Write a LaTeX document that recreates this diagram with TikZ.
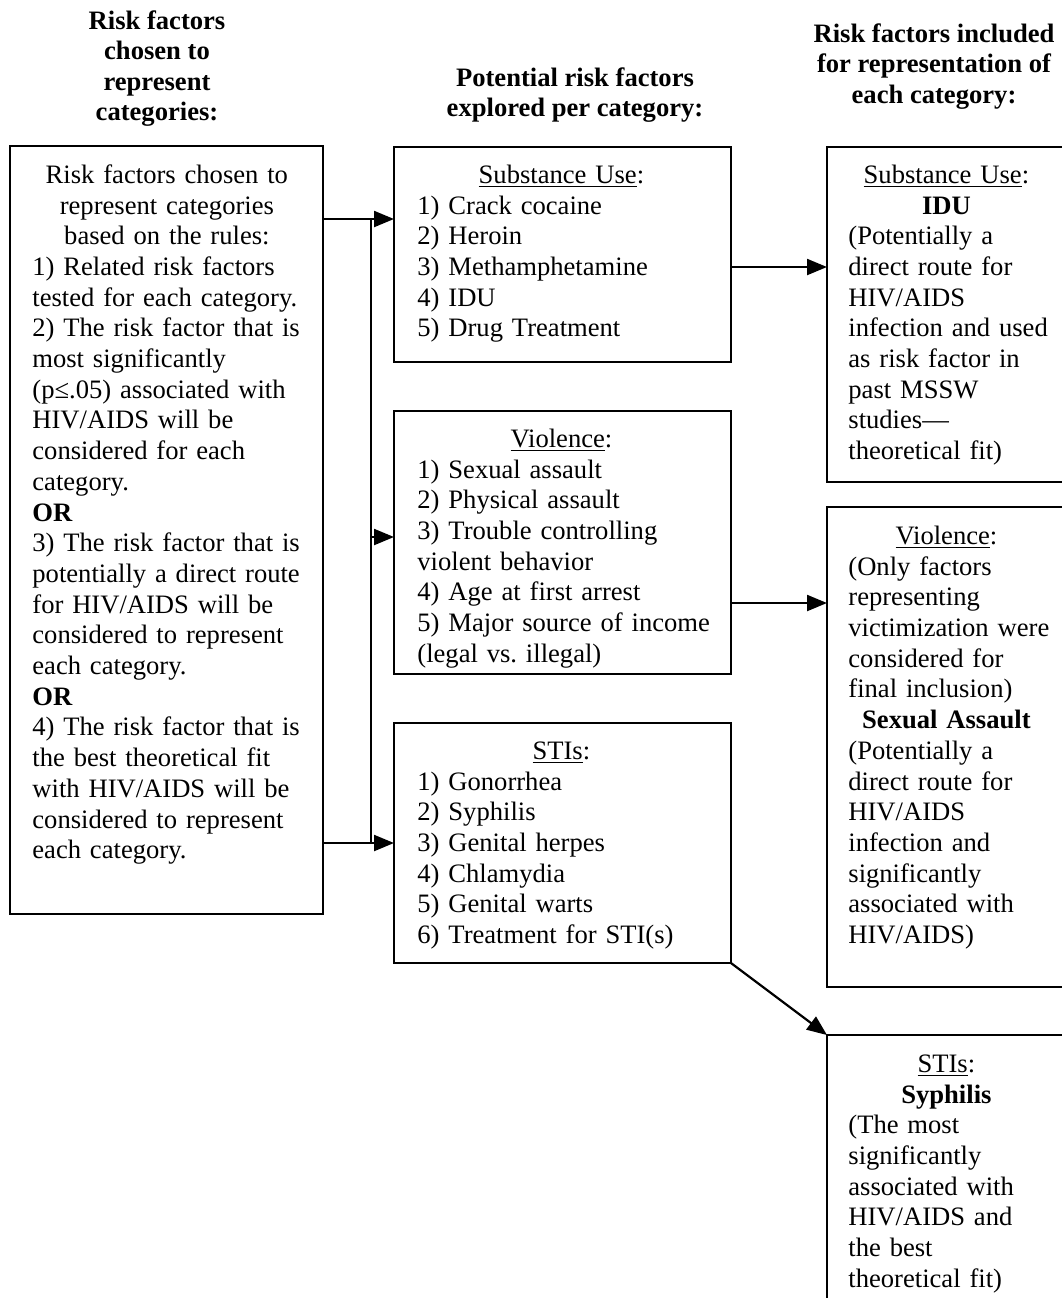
\documentclass[tikz,border=0pt]{standalone}
\usepackage{fontspec}
\setmainfont{Liberation Serif}
\usetikzlibrary{arrows.meta}
\setlength{\parindent}{0pt}
\frenchspacing
\begin{document}
\begin{tikzpicture}[x=0.5pt,y=-0.5pt,
  box/.style={draw, line width=1.1pt, inner sep=0pt, outer sep=0pt, anchor=north west},
  txt/.style={anchor=north west, inner sep=0pt, align=left,
    font=\fontsize{13.3pt}{15.35pt}\selectfont},
  head/.style={anchor=north, inner sep=0pt, align=center,
    font=\fontsize{13.3pt}{15.25pt}\selectfont\bfseries},
  link/.style={line width=1.1pt, line cap=rect},
  arr/.style={line width=1.1pt, -{Triangle[length=10pt,width=8pt]}}]
\useasboundingbox (0,0) rectangle (1062,1298);
\clip (0,0) rectangle (1062,1298);

% column headings
\node[head] (hL) at (157,7.5) {\strut Risk factors\\ chosen to\\ represent\\ categories:};
\node[head] (hM) at (575,64.5) {\strut Potential risk factors\\ explored per category:};
\node[head] (hR) at (934,20.5) {\strut Risk factors included\\ for representation of\\ each category:};

% frames
\node[box, minimum width=156.5pt, minimum height=384pt] (L) at (10,146) {};
\node[box, minimum width=168.5pt, minimum height=107.5pt] (M1) at (394,147) {};
\node[box, minimum width=168.5pt, minimum height=131.5pt] (M2) at (394,411) {};
\node[box, minimum width=168.5pt, minimum height=120pt] (M3) at (394,723) {};
\node[box, minimum width=120pt, minimum height=167.5pt] (R1) at (827,147) {};
\node[box, minimum width=120pt, minimum height=240pt] (R2) at (827,507) {};
\node[box, minimum width=120pt, minimum height=150pt] (R3) at (827,1035) {};

% rules for choosing
\node[txt, text width=150pt] (tL) at (32,161.5) {%
\makebox[134.5pt]{\strut Risk factors chosen to}\\
\makebox[134.5pt]{represent categories}\\
\makebox[134.5pt]{based on the rules:}\\
1) Related risk factors\\
tested for each category.\\
2) The risk factor that is\\
most significantly\\
(p≤.05) associated with\\
HIV/AIDS will be\\
considered for each\\
category.\\
\textbf{OR}\\
3) The risk factor that is\\
potentially a direct route\\
for HIV/AIDS will be\\
considered to represent\\
each category.\\
\textbf{OR}\\
4) The risk factor that is\\
the best theoretical fit\\
with HIV/AIDS will be\\
considered to represent\\
each category.};

% candidate risk factors
\node[txt, text width=170pt] (tM1) at (417,161.5) {%
\makebox[144pt]{\strut\underline{Substance Use}:}\\
1) Crack cocaine\\
2) Heroin\\
3) Methamphetamine\\
4) IDU\\
5) Drug Treatment};

\node[txt, text width=170pt] (tM2) at (417,425.5) {%
\makebox[144pt]{\strut\underline{Violence}:}\\
1) Sexual assault\\
2) Physical assault\\
3) Trouble controlling\\
violent behavior\\
4) Age at first arrest\\
5) Major source of income\\
(legal vs. illegal)};

\node[txt, text width=170pt] (tM3) at (417,737.5) {%
\makebox[144pt]{\strut\underline{STIs}:}\\
1) Gonorrhea\\
2) Syphilis\\
3) Genital herpes\\
4) Chlamydia\\
5) Genital warts\\
6) Treatment for STI(s)};

% selected risk factors
\node[txt, text width=120pt] (tR1) at (848,161.5) {%
\makebox[98pt]{\strut\underline{Substance Use}:}\\
\makebox[98pt]{\textbf{IDU}}\\
(Potentially a\\
direct route for\\
HIV/AIDS\\
infection and used\\
as risk factor in\\
past MSSW\\
studies—\\
theoretical fit)};

\node[txt, text width=120pt] (tR2) at (848,522.5) {%
\makebox[98pt]{\strut\underline{Violence}:}\\
(Only factors\\
representing\\
victimization were\\
considered for\\
final inclusion)\\
\makebox[98pt]{\textbf{Sexual Assault}}\\
(Potentially a\\
direct route for\\
HIV/AIDS\\
infection and\\
significantly\\
associated with\\
HIV/AIDS)};

\node[txt, text width=120pt] (tR3) at (848,1050.5) {%
\makebox[98pt]{\strut\underline{STIs}:}\\
\makebox[98pt]{\textbf{Syphilis}}\\
(The most\\
significantly\\
associated with\\
HIV/AIDS and\\
the best\\
theoretical fit)};

% branch points of the connectors
\coordinate (j1) at (371,219);
\coordinate (j2) at (371,537);
\coordinate (j3) at (371,843);
\coordinate (k1) at (779,267);
\coordinate (k2) at (779,603);

\draw[arr] (L.east |- j1) -- (M1.west |- j1);
\draw[link] (j1) -- (j3);
\draw[arr] (j2) -- (M2.west |- j2);
\draw[arr] (L.east |- j3) -- (M3.west |- j3);
\draw[arr] (M1.east |- k1) -- (R1.west |- k1);
\draw[arr] (M2.east |- k2) -- (R2.west |- k2);
\draw[arr] (M3.south east) -- (R3.north west);
\end{tikzpicture}
\end{document}
